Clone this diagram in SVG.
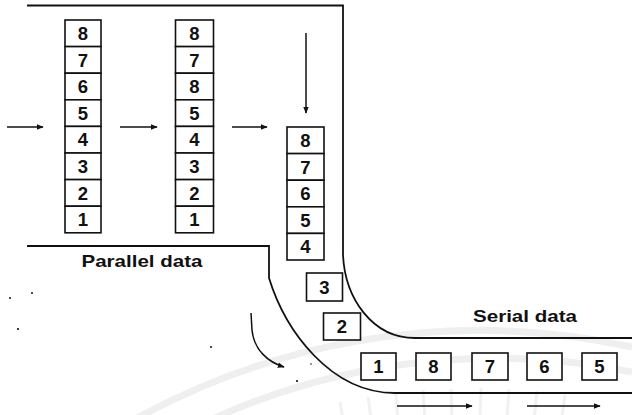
<svg xmlns="http://www.w3.org/2000/svg" width="632" height="415" viewBox="0 0 632 415">
<style>
.box{fill:#fff;stroke:#111;stroke-width:1.6}
.num{font-family:"Liberation Sans",Arial,sans-serif;font-size:18.5px;font-weight:700;fill:#111;text-anchor:middle}
.lbl{font-family:"Liberation Sans",Arial,sans-serif;font-size:16.5px;font-weight:700;fill:#111}
.wall{fill:none;stroke:#111;stroke-width:1.8}
.arr{fill:none;stroke:#111;stroke-width:1.5;marker-end:url(#ah)}
.wm{fill:none;stroke:#efefef;stroke-width:7}
.ray{stroke:#f1f1f1;stroke-width:3}
</style>
<defs>
<marker id="ah" viewBox="0 0 10 10" refX="9" refY="5" markerWidth="7" markerHeight="7" markerUnits="userSpaceOnUse" orient="auto">
<path d="M0,1 L10,5 L0,9 z" fill="#111"/>
</marker>
</defs>
<rect width="632" height="415" fill="#fff"/>
<g id="watermark">
<path class="wm" d="M100,440 A712,712 0 0 1 632,347"/>
<path class="wm" d="M170,440 A687,687 0 0 1 632,372"/>
<g class="ray">
<line x1="345" y1="431" x2="340" y2="402"/>
<line x1="372" y1="426" x2="368" y2="397"/>
<line x1="398" y1="423" x2="396" y2="393"/>
<line x1="425" y1="420" x2="423" y2="390"/>
<line x1="452" y1="419" x2="451" y2="389"/>
<line x1="480" y1="418" x2="481" y2="388"/>
<line x1="507" y1="419" x2="509" y2="389"/>
<line x1="534" y1="421" x2="537" y2="391"/>
<line x1="561" y1="424" x2="565" y2="395"/>
</g>
</g>
<g id="walls">
<path class="wall" d="M27,5.5 H343 V255 C345,298 372,338 415,338 H632"/>
<path class="wall" d="M27,246 H269 V278 C285,330 330,393 395,393 H632"/>
</g>
<g id="connectors">
<line class="arr" x1="7" y1="127" x2="43" y2="127"/>
<line class="arr" x1="120" y1="127" x2="157" y2="127"/>
<line class="arr" x1="232" y1="127" x2="267" y2="127"/>
<line class="arr" x1="306" y1="33" x2="306" y2="113"/>
<path class="arr" d="M251,313 L252,330 C254,350 268,362 284,367"/>
<line class="arr" x1="397" y1="406" x2="472" y2="406"/>
<line class="arr" x1="527" y1="406" x2="600" y2="406"/>
</g>
<g id="column1">
<rect class="box" x="65" y="20" width="36" height="26.6"/><text class="num" x="83" y="40">8</text>
<rect class="box" x="65" y="46.6" width="36" height="26.6"/><text class="num" x="83" y="66.6">7</text>
<rect class="box" x="65" y="73.2" width="36" height="26.6"/><text class="num" x="83" y="93.2">6</text>
<rect class="box" x="65" y="99.8" width="36" height="26.6"/><text class="num" x="83" y="119.8">5</text>
<rect class="box" x="65" y="126.4" width="36" height="26.6"/><text class="num" x="83" y="146.4">4</text>
<rect class="box" x="65" y="153" width="36" height="26.6"/><text class="num" x="83" y="173">3</text>
<rect class="box" x="65" y="179.6" width="36" height="26.6"/><text class="num" x="83" y="199.6">2</text>
<rect class="box" x="65" y="206.2" width="36" height="26.6"/><text class="num" x="83" y="226.2">1</text>
</g>
<g id="column2">
<rect class="box" x="175.5" y="20" width="38" height="26.6"/><text class="num" x="194.5" y="40">8</text>
<rect class="box" x="175.5" y="46.6" width="38" height="26.6"/><text class="num" x="194.5" y="66.6">7</text>
<rect class="box" x="175.5" y="73.2" width="38" height="26.6"/><text class="num" x="194.5" y="93.2">8</text>
<rect class="box" x="175.5" y="99.8" width="38" height="26.6"/><text class="num" x="194.5" y="119.8">5</text>
<rect class="box" x="175.5" y="126.4" width="38" height="26.6"/><text class="num" x="194.5" y="146.4">4</text>
<rect class="box" x="175.5" y="153" width="38" height="26.6"/><text class="num" x="194.5" y="173">3</text>
<rect class="box" x="175.5" y="179.6" width="38" height="26.6"/><text class="num" x="194.5" y="199.6">2</text>
<rect class="box" x="175.5" y="206.2" width="38" height="26.6"/><text class="num" x="194.5" y="226.2">1</text>
</g>
<g id="column3">
<rect class="box" x="287" y="127" width="37" height="26.6"/><text class="num" x="305.5" y="147">8</text>
<rect class="box" x="287" y="153.6" width="37" height="26.6"/><text class="num" x="305.5" y="173.6">7</text>
<rect class="box" x="287" y="180.2" width="37" height="26.6"/><text class="num" x="305.5" y="200.2">6</text>
<rect class="box" x="287" y="206.8" width="37" height="26.6"/><text class="num" x="305.5" y="226.8">5</text>
<rect class="box" x="287" y="233.4" width="37" height="26.6"/><text class="num" x="305.5" y="253.4">4</text>
</g>
<g id="bit3"><rect class="box" x="306.5" y="273" width="36" height="28"/><text class="num" x="324.5" y="293.5">3</text></g>
<g id="bit2"><rect class="box" x="323.5" y="313" width="37" height="27"/><text class="num" x="342" y="333">2</text></g>
<g id="serial">
<rect class="box" x="361" y="353" width="35" height="27"/><text class="num" x="378.5" y="373">1</text>
<rect class="box" x="416" y="353" width="35" height="27"/><text class="num" x="433.5" y="373">8</text>
<rect class="box" x="472" y="353" width="36" height="27"/><text class="num" x="490" y="373">7</text>
<rect class="box" x="527" y="353" width="35" height="27"/><text class="num" x="544.5" y="373">6</text>
<rect class="box" x="582" y="353" width="35" height="27"/><text class="num" x="599.5" y="373">5</text>
</g>
<g id="labels">
<text class="lbl" x="81.5" y="267" textLength="121" lengthAdjust="spacingAndGlyphs">Parallel data</text>
<text class="lbl" x="473" y="321.5" font-size="17" textLength="104" lengthAdjust="spacingAndGlyphs">Serial data</text>
</g>
<g id="specks" fill="#111">
<circle cx="10" cy="298" r="1"/>
<circle cx="32" cy="293" r="1"/>
<circle cx="18" cy="329" r="1.1"/>
<circle cx="211" cy="347" r="1"/>
<circle cx="297" cy="381" r="1.1"/>
<circle cx="311" cy="364" r="0.8"/>
</g>
</svg>
